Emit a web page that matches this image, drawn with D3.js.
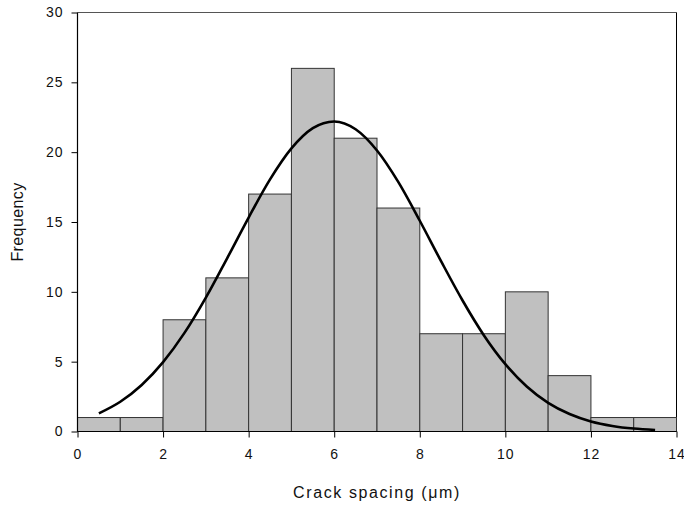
<!DOCTYPE html>
<html>
<head>
<meta charset="utf-8">
<script src="https://cdn.jsdelivr.net/npm/d3@7"></script>
<style>
html,body{margin:0;padding:0;background:#fff;}
svg{display:block;font-family:"Liberation Sans",Arial,sans-serif;}
</style>
</head>
<body>
<svg id="chart" width="684" height="506"></svg>
<script>
// Histogram bins (lower edge) and counts
const binStarts = [0,1,2,3,4,5,6,7,8,9,10,11,12,13];
const binWidth = 1;
const counts = [1,1,8,11,17,26,21,16,7,7,10,4,1,1];
// Fitted normal curve points
const curveX = [0.5,1,1.5,2,2.5,3,3.5,4,4.5,5,5.5,6,6.5,7,7.5,8,8.5,9,9.5,10,10.5,11,11.5,12,12.5,13,13.5];
const curveY = [1.30,2.13,3.33,4.97,7.06,9.59,12.42,15.32,18.05,20.27,21.72,22.2,21.64,20.12,17.85,15.09,12.18,9.38,6.88,4.82,3.22,2.05,1.25,0.72,0.40,0.21,0.11];
const xTicks = [0,2,4,6,8,10,12,14];
const yTicks = [0,5,10,15,20,25,30];

const svg = d3.select("#chart");
const L = 77.5, R = 676.5, T = 12.5, B = 431.5;
const x = d3.scaleLinear().domain([0,14]).range([L,R]);
const y = d3.scaleLinear().domain([0,30]).range([B,T]);

// frame top & right
svg.append("line").attr("x1",L).attr("x2",R).attr("y1",T).attr("y2",T).attr("stroke","#555").attr("stroke-width",1);
svg.append("line").attr("x1",R).attr("x2",R).attr("y1",T).attr("y2",B).attr("stroke","#000").attr("stroke-width",1);

// bars
svg.append("g").selectAll("rect").data(binStarts).join("rect")
  .attr("x", d => x(d))
  .attr("y", (d,i) => y(counts[i]))
  .attr("width", d => x(d+binWidth) - x(d))
  .attr("height", (d,i) => y(0) - y(counts[i]))
  .attr("fill","#c0c0c0")
  .attr("stroke","#333")
  .attr("stroke-width",1);

// curve
const pts = curveX.map((v,i)=>[v,curveY[i]]);
svg.append("path").datum(pts)
  .attr("d", d3.line().x(d=>x(d[0])).y(d=>y(d[1])).curve(d3.curveMonotoneX))
  .attr("fill","none").attr("stroke","#000").attr("stroke-width",2.6);

// axes
const xAxis = svg.append("g").attr("transform",`translate(0,${B})`)
  .call(d3.axisBottom(x).tickValues(xTicks).tickSize(6).tickPadding(12).tickFormat(d3.format("d")));
const yAxis = svg.append("g").attr("transform",`translate(${L},0)`)
  .call(d3.axisLeft(y).tickValues(yTicks).tickSize(6).tickPadding(8).tickFormat(d3.format("d")));
[xAxis,yAxis].forEach(a=>{
  a.select(".domain").attr("stroke","#000").attr("stroke-width",1.2);
  a.selectAll(".tick line").attr("stroke","#000");
  a.selectAll("text").attr("font-size",14).attr("letter-spacing",1).attr("fill","#111").attr("font-family","'Liberation Sans',Arial,sans-serif");
});
xAxis.select(".domain").attr("d",`M${L},0H${R}`);
yAxis.select(".domain").attr("d",`M0,${B}V${T}`);

// titles
svg.append("text").attr("x",(L+R)/2).attr("y",498).attr("text-anchor","middle")
  .attr("font-size",16).attr("letter-spacing",1.6).attr("fill","#111").text("Crack spacing (\u03bcm)");
svg.append("text").attr("transform",`translate(23,${(T+B)/2}) rotate(-90)`).attr("text-anchor","middle")
  .attr("font-size",16).attr("letter-spacing",0.4).attr("fill","#111").text("Frequency");
</script>
</body>
</html>
